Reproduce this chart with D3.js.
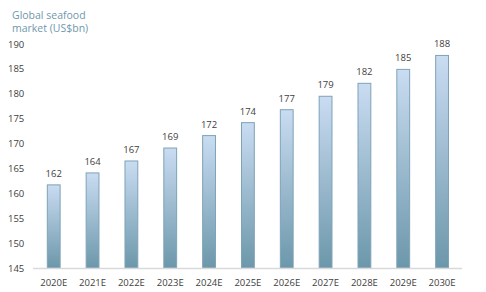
<!DOCTYPE html>
<html>
<head>
<meta charset="utf-8">
<script src="https://cdnjs.cloudflare.com/ajax/libs/d3/7.8.5/d3.min.js"></script>
<style>
  body { margin: 0; background: #fff; }
  text { font-family: "Open Sans", "Liberation Sans", sans-serif; }
</style>
</head>
<body>
<div id="chart"></div>
<script>
var years = ["2020E","2021E","2022E","2023E","2024E","2025E","2026E","2027E","2028E","2029E","2030E"];
var values = [161.7, 164.1, 166.5, 169.1, 171.6, 174.2, 176.8, 179.5, 182.1, 184.9, 187.7];
var labels = ["162","164","167","169","172","174","177","179","182","185","188"];
var yTicks = [145,150,155,160,165,170,175,180,185,190];

var W = 486, H = 292;
var svg = d3.select("#chart").append("svg").attr("width", W).attr("height", H);

var defs = svg.append("defs");
var grad = defs.append("linearGradient").attr("id","barGrad")
  .attr("x1",0).attr("y1",0).attr("x2",0).attr("y2",1);
grad.append("stop").attr("offset","0%").attr("stop-color","#c9dcf2");
grad.append("stop").attr("offset","100%").attr("stop-color","#6c97aa");

var x = d3.scaleBand().domain(years).range([34.3, 461.5]).paddingInner(0.67).paddingOuter(0.335);
var y = d3.scaleLinear().domain([145, 190]).range([268, 44]);

// y labels
svg.append("g").selectAll("text").data(yTicks).enter().append("text")
  .attr("x", 8).attr("y", d => y(d) + 3.5)
  .attr("font-size", 9.5).attr("fill", "#404040")
  .text(d => d);

// bars
svg.append("g").selectAll("rect").data(values).enter().append("rect")
  .attr("x", (d,i) => x(years[i]))
  .attr("y", d => y(d))
  .attr("width", x.bandwidth())
  .attr("height", d => y(145) - y(d))
  .attr("fill", "url(#barGrad)")
  .attr("stroke", "#7fa2b7").attr("stroke-width", 1);

// value labels
svg.append("g").selectAll("text").data(values).enter().append("text")
  .attr("x", (d,i) => x(years[i]) + x.bandwidth()/2)
  .attr("y", d => y(d) - 8)
  .attr("text-anchor","middle")
  .attr("font-size", 9.5).attr("fill", "#404040")
  .text((d,i) => labels[i]);

// x axis line
svg.append("line").attr("x1", 33).attr("x2", 462)
  .attr("y1", y(145) + 0.5).attr("y2", y(145) + 0.5)
  .attr("stroke", "#d9d9d9").attr("stroke-width", 1.5);

// category labels
svg.append("g").selectAll("text").data(years).enter().append("text")
  .attr("x", d => x(d) + x.bandwidth()/2)
  .attr("y", 286)
  .attr("text-anchor","middle")
  .attr("font-size", 9.5).attr("fill", "#404040")
  .text(d => d);

// title
var t = svg.append("text").attr("x", 12).attr("font-size", 10.5).attr("fill", "#6f98ad");
t.append("tspan").attr("x", 12).attr("y", 18.5).text("Global seafood");
t.append("tspan").attr("x", 12).attr("y", 32).text("market (US$bn)");
</script>
</body>
</html>
